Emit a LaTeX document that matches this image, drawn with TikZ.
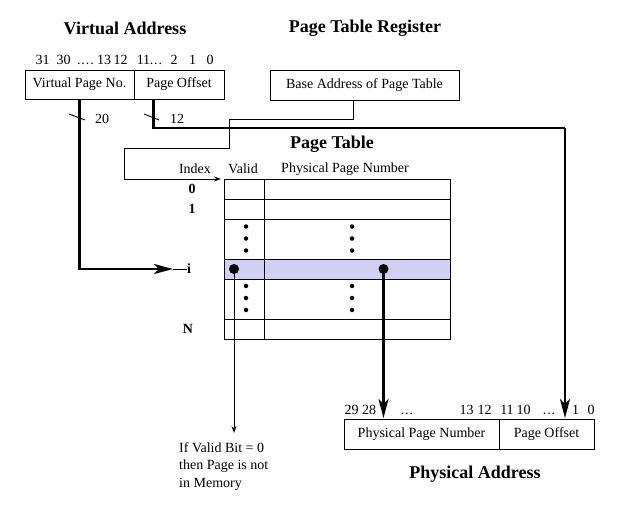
\documentclass[tikz,border=0pt]{standalone}
\usepackage{fontspec}
\setmainfont{Liberation Serif}
\usetikzlibrary{arrows.meta}
\definecolor{hilite}{RGB}{208,208,242}
\begin{document}
\begin{tikzpicture}[x=1pt,y=-1pt,
  txt/.style={font=\fontsize{14}{16}\selectfont, inner sep=0pt},
  ttl/.style={font=\fontsize{18}{20}\selectfont\bfseries, inner sep=0pt},
  lbl/.style={font=\fontsize{14}{16}\selectfont\bfseries, inner sep=0pt},
  fieldbox/.style={draw, line width=1pt, inner sep=0pt, minimum height=29pt,
    font=\fontsize{14}{16}\selectfont},
  thinln/.style={line width=0.9pt},
  thk/.style={line width=2.4pt},
  bigarrow/.style={-{Stealth[length=19pt,width=10pt,inset=5pt]}},
  smallarrow/.style={-{Stealth[length=7pt,width=5pt]}},
  dotsm/.style={circle, fill, inner sep=0pt, minimum size=4.5pt},
  dotbig/.style={circle, fill, inner sep=0pt, minimum size=10pt},
]
\useasboundingbox[fill=white] (0,0) rectangle (618,519);

% ---------- titles ----------
\node[ttl] (tva) at (125,28) {Virtual Address};
\node[ttl] (tptr) at (365,28) {Page Table Register};
\node[ttl] (tpt) at (332,144) {Page Table};
\node[ttl] (tpa) at (475,474) {Physical Address};

% ---------- virtual address ----------
\node[fieldbox, minimum width=109pt] (vpn) at (79.5,84.5) {Virtual Page No.};
\node[fieldbox, minimum width=90pt] (vpo) at (179,84.5) {Page Offset};
\foreach \t/\x in {31/42.5, 30/63.5, {.\kern1pt.\kern1pt.\kern1pt.}/85.5, 13/104, 12/120.5, 11/143.5, {.\kern1pt.\kern1pt.}/156, 2/174, 1/192.5, 0/210}
  \node[txt, anchor=base] at (\x,65) {\t};

% ---------- page table register ----------
\node[fieldbox, minimum width=189pt, minimum height=30pt] (base) at (364.5,85) {Base Address of Page Table};

% ---------- page table ----------
\node[txt] (hidx) at (195,169) {Index};
\node[txt] (hval) at (243,169) {Valid};
\node[txt] (hppn) at (345,169) {Physical Page Number};

\fill[hilite] (224,259) rectangle (450,279);
\draw[thinln] (224,179) rectangle (450,339);
\foreach \y in {199,219,259,279,319} \draw[thinln] (224,\y) -- (450,\y);
\draw[thinln] (264,179) -- (264,339);

\node[lbl] (r0) at (192,189) {0};
\node[lbl] (r1) at (192,209) {1};
\node[lbl] (ri) at (189,269) {i};
\node[lbl] (rn) at (188,329) {N};

\foreach \y [count=\k] in {226.5,238.5,250.5} {
  \node[dotsm] (va\k) at (246,\y) {};
  \node[dotsm] (pa\k) at (352,\y) {};
}
\foreach \y [count=\k] in {286,298,310} {
  \node[dotsm] (vb\k) at (246,\y) {};
  \node[dotsm] (pb\k) at (352,\y) {};
}
\node[dotbig] (vdot) at (234,269) {};
\node[dotbig] (pdot) at (383.5,269) {};

% ---------- physical address ----------
\node[fieldbox, minimum width=155pt, minimum height=30pt] (ppn) at (421.5,434) {Physical Page Number};
\node[fieldbox, minimum width=95pt, minimum height=30pt] (ppo) at (546.5,434) {Page Offset};
\foreach \t/\x in {29/351.5, 28/369, {.\kern1pt.\kern1pt.}/407, 13/466.5, 12/484.5, 11/507, 10/523.5, {.\kern1pt.\kern1pt.}/549, 1/575.5, 0/591}
  \node[txt, anchor=base] at (\x,414) {\t};

% ---------- note ----------
\node[txt, anchor=north west, align=left, font=\fontsize{14}{17.5}\selectfont] (note) at (179,442)
  {If Valid Bit = 0\\then Page is not\\in Memory};

% ---------- connectors ----------
\coordinate (itip) at (173,269);
\draw[thk, bigarrow] (vpn.south) |- (itip);
\draw[thinln] (itip) -- (ri.west);
\draw[thinln] (69,114) -- (85,120);
\node[txt] (w20) at (102,119) {20};

\coordinate (offbend) at (565,128);
\coordinate (offtip) at (565,418);
\draw[thk] ([xshift=20pt]vpo.south west) |- (offbend);
\draw[thk, bigarrow] (offbend) -- (offtip);
\draw[thinln] (144,114) -- (159,120);
\node[txt] (w12) at (177,119) {12};

\coordinate (b1) at (229,119);
\coordinate (b2) at (124,148);
\coordinate (tabin) at (221,179);
\draw[thinln, smallarrow] ([xshift=-11pt]base.south) |- (b1) |- (b2) |- (tabin);

\coordinate (vtip) at (234,433);
\draw[thinln, smallarrow] (vdot.center) -- (vtip);

\coordinate (ptip) at (383.5,418);
\draw[thk, bigarrow] (pdot.center) -- (ptip);
\end{tikzpicture}
\end{document}
